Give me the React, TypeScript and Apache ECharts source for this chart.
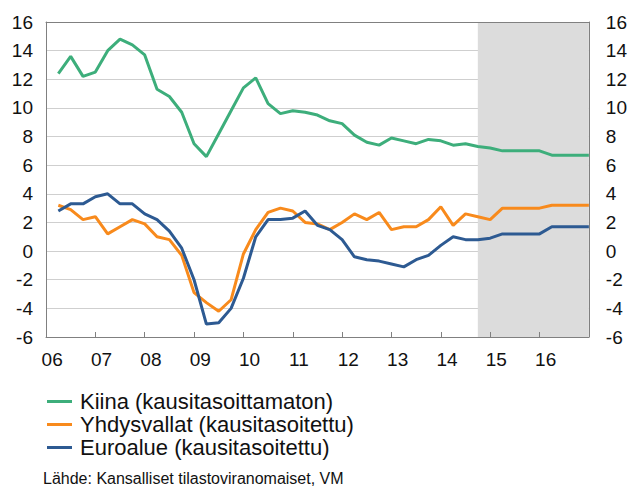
import React, { useEffect, useRef } from "react";
import * as echarts from "echarts";

// Year labels on the x axis (one per year, quarterly data)
const yearLabels = ["06", "07", "08", "09", "10", "11", "12", "13", "14", "15", "16"];
const quartersPerYear = 4;

// Quarterly GDP growth, % y/y, 2006Q1 .. 2016Q4
const china = [
  12.4, 13.6, 12.2, 12.5, 14.0, 14.8, 14.4, 13.7, 11.3, 10.8, 9.7, 7.5,
  6.6, 8.2, 9.8, 11.4, 12.1, 10.3, 9.6, 9.8, 9.7, 9.5, 9.1, 8.9,
  8.1, 7.6, 7.4, 7.9, 7.7, 7.5, 7.8, 7.7, 7.4, 7.5, 7.3, 7.2,
  7.0, 7.0, 7.0, 7.0, 6.7, 6.7, 6.7, 6.7,
];
const usa = [
  3.2, 2.9, 2.2, 2.4, 1.2, 1.7, 2.2, 1.9, 1.0, 0.8, -0.3, -2.9,
  -3.6, -4.2, -3.4, -0.2, 1.5, 2.7, 3.0, 2.8, 2.0, 1.9, 1.5, 2.0,
  2.6, 2.2, 2.7, 1.5, 1.7, 1.7, 2.2, 3.1, 1.8, 2.6, 2.4, 2.2,
  3.0, 3.0, 3.0, 3.0, 3.2, 3.2, 3.2, 3.2,
];
const euro = [
  2.8, 3.3, 3.3, 3.8, 4.0, 3.3, 3.3, 2.6, 2.2, 1.4, 0.2, -2.0,
  -5.1, -5.0, -4.0, -1.9, 1.0, 2.2, 2.2, 2.3, 2.8, 1.8, 1.5, 0.8,
  -0.4, -0.6, -0.7, -0.9, -1.1, -0.6, -0.3, 0.4, 1.0, 0.8, 0.8, 0.9,
  1.2, 1.2, 1.2, 1.2, 1.7, 1.7, 1.7, 1.7,
];

const seriesNames = [
  "Kiina (kausitasoittamaton)",
  "Yhdysvallat (kausitasoitettu)",
  "Euroalue (kausitasoitettu)",
];
const seriesColors = ["#3DAE7B", "#F88A1C", "#2D5A92"];

// Forecast period starts after this many quarters (2014Q3 end)
const forecastStartQuarter = 35;

const yMin = -6;
const yMax = 16;
const yStep = 2;

const sourceText = "Lähde: Kansalliset tilastoviranomaiset, VM";

const FONT = "'Liberation Sans', Arial, Helvetica, sans-serif";

export default function App() {
  const ref = useRef<HTMLDivElement>(null);

  useEffect(() => {
    document.body.style.margin = "0";
    if (!ref.current) return;
    const chart = echarts.init(ref.current, undefined, { renderer: "svg" });

    const nQuarters = yearLabels.length * quartersPerYear;
    const catLabels: string[] = [];
    yearLabels.forEach((y) => {
      catLabels.push(y);
      for (let k = 1; k < quartersPerYear; k++) catLabels.push("");
    });
    const toPairs = (arr: number[]) => arr.map((v, i) => [i + 1, v]);

    const frameColor = "#808080";

    const option: any = {
      animation: false,
      grid: { left: 46, right: 40, top: 22, bottom: 151, containLabel: false },
      xAxis: [
        {
          type: "value",
          min: 0,
          max: nQuarters,
          interval: quartersPerYear,
          position: "bottom",
          z: 1,
          axisLine: { show: true, onZero: false, lineStyle: { color: frameColor, width: 1 } },
          axisTick: { show: true, inside: true, length: 5, lineStyle: { color: frameColor } },
          axisLabel: { show: false },
          splitLine: { show: false },
        },
        {
          type: "category",
          data: catLabels,
          boundaryGap: true,
          position: "bottom",
          axisLine: { show: false },
          axisTick: { show: false },
          splitLine: { show: false },
          axisLabel: { interval: 0, fontSize: 19, color: "#111", margin: 13, fontFamily: FONT },
        },
        {
          type: "value",
          min: 0,
          max: nQuarters,
          position: "top",
          z: 1,
          axisLine: { show: true, onZero: false, lineStyle: { color: frameColor, width: 1 } },
          axisTick: { show: false },
          axisLabel: { show: false },
          splitLine: { show: false },
        },
      ],
      yAxis: [
        {
          type: "value",
          min: yMin,
          max: yMax,
          interval: yStep,
          position: "left",
          z: 1,
          axisLine: { show: true, onZero: false, lineStyle: { color: frameColor } },
          axisTick: { show: false },
          axisLabel: { fontSize: 19, color: "#111", margin: 13, fontFamily: FONT },
          splitLine: { show: true, lineStyle: { color: "#cfcfcf", width: 1 } },
        },
        {
          type: "value",
          min: yMin,
          max: yMax,
          interval: yStep,
          position: "right",
          z: 1,
          axisLine: { show: true, onZero: false, lineStyle: { color: frameColor } },
          axisTick: { show: false },
          axisLabel: { fontSize: 19, color: "#111", margin: 17, fontFamily: FONT },
          splitLine: { show: false },
        },
      ],
      legend: {
        orient: "vertical",
        left: 47,
        top: 390,
        padding: 0,
        itemWidth: 25,
        itemHeight: 3,
        itemGap: 0,
        icon: "rect",
        data: seriesNames,
        textStyle: {
          fontSize: 22,
          lineHeight: 23,
          color: "#111",
          fontFamily: FONT,
          padding: [0, 0, 0, 3],
        },
      },
      series: [
        {
          name: "forecast",
          type: "line",
          xAxisIndex: 0,
          yAxisIndex: 0,
          z: 0,
          silent: true,
          symbol: "none",
          lineStyle: { opacity: 0 },
          data: toPairs(china),
          markArea: {
            silent: true,
            itemStyle: { color: "#dcdcdc" },
            data: [[{ xAxis: forecastStartQuarter, yAxis: yMin }, { xAxis: nQuarters, yAxis: yMax }]],
          },
        },
        ...[china, usa, euro].map((arr, k) => ({
          name: seriesNames[k],
          type: "line",
          xAxisIndex: 0,
          yAxisIndex: 0,
          z: 3,
          symbol: "none",
          color: seriesColors[k],
          lineStyle: { width: 3, color: seriesColors[k] },
          data: toPairs(arr),
        })),
      ],
      graphic: [
        {
          type: "text",
          left: 43,
          top: 470,
          style: { text: sourceText, fontSize: 16, fill: "#111", fontFamily: FONT },
        },
      ],
    };

    chart.setOption(option);
    return () => chart.dispose();
  }, []);

  return <div ref={ref} style={{ width: 630, height: 488 }} />;
}
